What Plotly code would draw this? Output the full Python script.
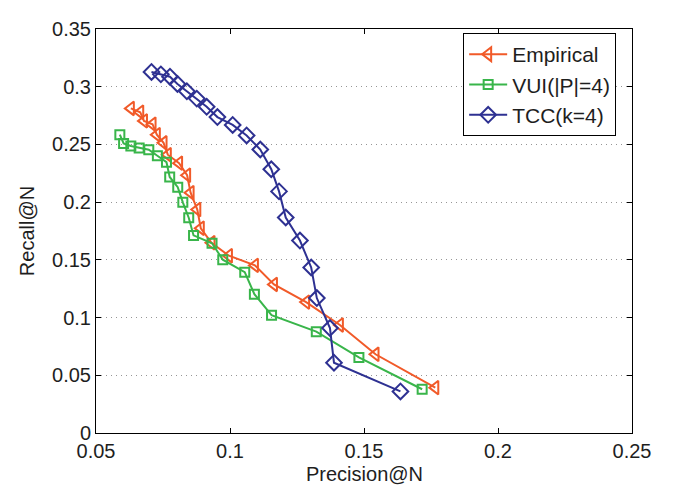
import plotly.graph_objects as go

# Empirical
emp_x = [0.0630, 0.0665, 0.0679, 0.0711, 0.0727, 0.0752, 0.0768, 0.0810, 0.0840, 0.0853,
         0.0878, 0.0891, 0.0931, 0.0996, 0.1093, 0.1164, 0.1284, 0.1410, 0.1543, 0.1766]
emp_y = [0.2812, 0.2779, 0.2704, 0.2675, 0.2584, 0.2514, 0.2411, 0.2338, 0.2233, 0.2082,
         0.1936, 0.1774, 0.1648, 0.1536, 0.1452, 0.1287, 0.1134, 0.0936, 0.0682, 0.0393]

# VUI(|P|=4)
vui_x = [0.0589, 0.0603, 0.0630, 0.0661, 0.0697, 0.0729, 0.0763, 0.0775, 0.0805, 0.0824,
         0.0846, 0.0864, 0.0933, 0.0973, 0.1055, 0.1091, 0.1155, 0.1322, 0.1481, 0.1717]
vui_y = [0.2584, 0.2508, 0.2487, 0.2470, 0.2454, 0.2402, 0.2346, 0.2218, 0.2130, 0.1998,
         0.1865, 0.1712, 0.1644, 0.1502, 0.1393, 0.1202, 0.1021, 0.0878, 0.0655, 0.0379]

# TCC(k=4)
tcc_x = [0.0707, 0.0742, 0.0776, 0.0804, 0.0839, 0.0876, 0.0913, 0.0953, 0.1010, 0.1062,
         0.1113, 0.1154, 0.1183, 0.1208, 0.1261, 0.1303, 0.1324, 0.1373, 0.1388, 0.1636]
tcc_y = [0.3128, 0.3107, 0.3087, 0.3024, 0.2960, 0.2897, 0.2826, 0.2737, 0.2669, 0.2578,
         0.2456, 0.2285, 0.2093, 0.1867, 0.1667, 0.1434, 0.1169, 0.0909, 0.0609, 0.0360]

x_ticks = [0.05, 0.1, 0.15, 0.2, 0.25]
x_tick_labels = ["0.05", "0.1", "0.15", "0.2", "0.25"]
y_ticks = [0, 0.05, 0.1, 0.15, 0.2, 0.25, 0.3, 0.35]
y_tick_labels = ["0", "0.05", "0.1", "0.15", "0.2", "0.25", "0.3", "0.35"]
x_title = "Precision@N"
y_title = "Recall@N"

series = [
    ("Empirical", emp_x, emp_y, "rgb(241,90,41)", "triangle-left-open", 12),
    ("VUI(|P|=4)", vui_x, vui_y, "rgb(57,181,74)", "square-open", 9),
    ("TCC(k=4)", tcc_x, tcc_y, "rgb(46,49,146)", "diamond-open", 12),
]

fig = go.Figure()
for name, xs, ys, col, sym, sz in series:
    fig.add_trace(go.Scatter(
        x=xs, y=ys, name=name, mode="lines+markers",
        line=dict(color=col, width=2),
        marker=dict(symbol=sym, size=sz, color=col, line=dict(color=col, width=2)),
    ))

font = "Liberation Sans, Arial, Helvetica, sans-serif"
txt = "rgb(30,30,30)"
fs = 20
# the page body adds an 8px margin, so the figure is 8px smaller and margins shifted
fig.update_layout(
    width=673, height=482,
    margin=dict(l=88, r=49, t=10, b=57),
    paper_bgcolor="white", plot_bgcolor="white",
    font=dict(family=font, size=fs, color=txt),
    showlegend=True,
    legend=dict(
        x=0.685, y=0.99, xanchor="left", yanchor="top",
        bgcolor="white", bordercolor="black", borderwidth=1,
        font=dict(family=font, size=21, color=txt),
        tracegroupgap=0, itemwidth=38,
    ),
    xaxis=dict(
        range=[0.05, 0.25], tickvals=x_ticks, ticktext=x_tick_labels,
        ticks="inside", ticklen=5, tickcolor="black", tickwidth=1,
        showline=True, linecolor="black", linewidth=1, mirror="ticks",
        showgrid=False, zeroline=False,
        tickfont=dict(size=fs), ticklabeloverflow="allow",
    ),
    yaxis=dict(
        range=[0, 0.35], tickvals=y_ticks, ticktext=y_tick_labels,
        ticks="inside", ticklen=5, tickcolor="black", tickwidth=1,
        showline=True, linecolor="black", linewidth=1, mirror="ticks",
        showgrid=True, gridcolor="rgb(150,150,150)", griddash="1px,4px", gridwidth=1,
        zeroline=False,
        title=dict(text=y_title, font=dict(size=fs), standoff=12),
        tickfont=dict(size=fs), ticklabeloverflow="allow",
    ),
    annotations=[dict(
        text=x_title, xref="paper", yref="paper", x=0.5, y=-0.101,
        xanchor="center", yanchor="middle", showarrow=False,
        font=dict(family=font, size=fs, color=txt),
    )],
)

fig.write_html("out.html")
